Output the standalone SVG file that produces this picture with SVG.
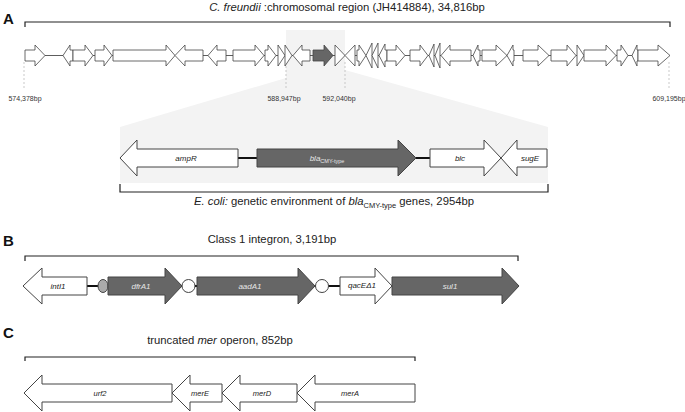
<svg xmlns="http://www.w3.org/2000/svg" width="685" height="412" viewBox="0 0 685 412">
<style>
text{font-family:"Liberation Sans",Arial,sans-serif}
.w{fill:#fff;stroke:#444;stroke-width:1}
.wt{fill:#fff;stroke:#444;stroke-width:0.8}
.d{fill:#666;stroke:#444;stroke-width:1}
.dt{fill:#666;stroke:#444;stroke-width:0.8}
.br{fill:none;stroke:#222;stroke-width:1.2}
.bb{stroke:#111;stroke-width:2.2}
.dash{stroke:#bbb;stroke-width:0.8;stroke-dasharray:2 2}
.pl{font-size:15px;font-weight:bold;fill:#111}
.ti{font-size:11.3px;fill:#222;text-anchor:middle}
.pos{font-size:7px;fill:#333;text-anchor:middle}
.gl{font-size:8px;font-style:italic;fill:#222;text-anchor:middle}
.gd{font-size:8px;font-style:italic;fill:#e6e6e6;text-anchor:middle}
.gc{font-size:7.5px;font-style:italic;fill:#222;text-anchor:middle}
</style>

<!-- Panel A -->
<text class="pl" x="3" y="24">A</text>
<text class="ti" x="347" y="11"><tspan font-style="italic">C. freundii</tspan> :chromosomal region (JH414884), 34,816bp</text>
<path class="br" d="M25,27 V22 H670 V27"/>

<polygon id="zoom-shade" points="286,30 345,30 345,70 548,127 548,183 120,183 120,127 286,78" fill="#f3f3f3"/>

<g id="positions">
<line class="dash" x1="24" y1="62" x2="24" y2="90"/>
<line class="dash" x1="286" y1="62" x2="286" y2="90"/>
<line class="dash" x1="345" y1="62" x2="345" y2="90"/>
<line class="dash" x1="669" y1="62" x2="669" y2="90"/>
<text class="pos" x="25" y="101">574,378bp</text>
<text class="pos" x="284" y="101">588,947bp</text>
<text class="pos" x="339" y="101">592,040bp</text>
<text class="pos" x="669" y="101">609,195bp</text>
</g>

<g id="connectors">
<line x1="25" y1="55.5" x2="670" y2="55.5" stroke="#333" stroke-width="0.8"/>
<line class="bb" x1="238" y1="158" x2="430" y2="158"/>
<line class="bb" x1="87" y1="286" x2="340" y2="286"/>
</g>

<g id="chromosome-genes">
<polygon class="wt" points="25,50 35,50 35,45 45,55.5 35,66 35,61 25,61"/>
<polygon class="wt" points="63,55.5 70,45 70,50 73,50 73,61 70,61 70,66"/>
<polygon class="wt" points="73,50 85,50 85,45 93,55.5 85,66 85,61 73,61"/>
<polygon class="wt" points="95,50 104,50 104,45 112,55.5 104,66 104,61 95,61"/>
<polygon class="wt" points="113,50 166,50 166,45 175,55.5 166,66 166,61 113,61"/>
<polygon class="wt" points="175,55.5 185,45 185,50 203,50 203,61 185,61 185,66"/>
<polygon class="wt" points="208,55.5 217,45 217,50 226,50 226,61 217,61 217,66"/>
<polygon class="wt" points="233,50 255,50 255,45 264,55.5 255,66 255,61 233,61"/>
<polygon class="wt" points="265,50 268,50 268,45 276,55.5 268,66 268,61 265,61"/>
<polygon class="wt" points="278,45 285,55.5 278,66"/>
<polygon class="wt" points="285,45 292,55.5 285,66"/>
<polygon class="wt" points="293,55.5 302,45 302,50 310,50 310,61 302,61 302,66"/>
<polygon class="dt" points="313,50 324,50 324,45 333,55.5 324,66 324,61 313,61"/>
<polygon class="wt" points="335,45 345,55.5 335,66"/>
<polygon class="wt" points="345,55.5 355,45 355,66"/>
<polygon class="wt" points="357,50 359,50 359,45 366,55.5 359,66 359,61 357,61"/>
<polygon class="wt" points="366,55.5 372,43 372,68"/>
<polygon class="wt" points="372,55.5 378,43 378,68"/>
<polygon class="wt" points="379,55.5 385,44 385,50 387,50 387,61 385,61 385,67"/>
<polygon class="wt" points="387,50 396,50 396,45 405,55.5 396,66 396,61 387,61"/>
<polygon class="wt" points="410,50 420,50 420,45 428,55.5 420,66 420,61 410,61"/>
<polygon class="wt" points="429,55.5 434,44 434,67"/>
<polygon class="wt" points="435,55.5 440,43 440,68"/>
<polygon class="wt" points="441,55.5 450,45 450,50 471,50 471,61 450,61 450,66"/>
<polygon class="wt" points="473,55.5 478,45 478,50 480,50 480,61 478,61 478,66"/>
<polygon class="wt" points="482,50 496,50 496,45 507,55.5 496,66 496,61 482,61"/>
<polygon class="wt" points="507,55.5 513,45 513,50 514,50 514,61 513,61 513,66"/>
<polygon class="wt" points="523,50 538,50 538,45 549,55.5 538,66 538,61 523,61"/>
<polygon class="wt" points="551,50 567,50 567,45 576,55.5 567,66 567,61 551,61"/>
<polygon class="wt" points="577,45 584,55.5 577,66"/>
<polygon class="wt" points="584,50 606,50 606,45 616,55.5 606,66 606,61 584,61"/>
<polygon class="wt" points="617,50 621,50 621,45 628,55.5 621,66 621,61 617,61"/>
<polygon class="wt" points="632,55.5 637,45 637,50 638,50 638,61 637,61 637,66"/>
<polygon class="wt" points="638,50 658,50 658,45 670,55.5 658,66 658,61 638,61"/>
</g>

<g id="ampR"><polygon class="w" points="120,158 137,140 137,149 238,149 238,167 137,167 137,176"/><text class="gl" x="186" y="161">ampR</text></g>
<g id="blaCMY"><polygon class="d" points="257,149 398,149 398,140 416,158 398,176 398,167 257,167"/><text class="gd" x="327" y="161">bla<tspan font-size="5.5" font-style="normal" dy="1.5">CMY-type</tspan></text></g>
<g id="blc"><polygon class="w" points="430,149 484,149 484,140 501,158 484,176 484,167 430,167"/><text class="gl" x="460" y="161">blc</text></g>
<g id="sugE"><polygon class="w" points="501,158 517,140 517,149 547,149 547,167 517,167 517,176"/><text class="gl" x="530" y="161">sugE</text></g>

<path class="br" d="M120,184 V192 H548 V184"/>
<text class="ti" x="334" y="205"><tspan font-style="italic">E. coli:</tspan> genetic environment of <tspan font-style="italic">bla</tspan><tspan font-size="7.5" dy="2.5">CMY-type</tspan><tspan dy="-2.5"> genes, 2954bp</tspan></text>

<!-- Panel B -->
<text class="pl" x="3" y="246">B</text>
<text class="ti" x="272" y="243">Class 1 integron, 3,191bp</text>
<path class="br" d="M25,261 V256 H518 V261"/>

<g id="intI1"><polygon class="w" points="23,286 42,268 42,277 87,277 87,295 42,295 42,304"/><text class="gl" x="58" y="289">intI1</text></g>
<g id="attI1"><ellipse cx="103" cy="286" rx="5" ry="6.5" fill="#aaa" stroke="#444"/></g>
<g id="dfrA1"><polygon class="d" points="108,277 165,277 165,268 182,286 165,304 165,295 108,295"/><text class="gd" x="141" y="289">dfrA1</text></g>
<g id="attC1"><circle cx="188.5" cy="286" r="6.5" fill="#fff" stroke="#444"/></g>
<g id="aadA1"><polygon class="d" points="197,277 298,277 298,268 315,286 298,304 298,295 197,295"/><text class="gd" x="250" y="289">aadA1</text></g>
<g id="attC2"><circle cx="322" cy="286" r="6.5" fill="#fff" stroke="#444"/></g>
<g id="qacE"><polygon class="w" points="340,277 375,277 375,268 392,286 375,304 375,295 340,295"/><text class="gl" x="362" y="288" font-size="5.5">qacEΔ1</text></g>
<g id="sul1"><polygon class="d" points="392,277 502,277 502,268 519,286 502,304 502,295 392,295"/><text class="gd" x="450" y="289">sul1</text></g>

<!-- Panel C -->
<text class="pl" x="3" y="338">C</text>
<text class="ti" x="220" y="344">truncated <tspan font-style="italic">mer</tspan> operon, 852bp</text>
<path class="br" d="M25,361 V357 H415 V361"/>

<g id="urf2"><polygon class="w" points="24,393 42,375 42,384 172,384 172,402 42,402 42,411"/><text class="gc" x="100" y="396">urf2</text></g>
<g id="merE"><polygon class="w" points="172,393 190,375 190,384 222,384 222,402 190,402 190,411"/><text class="gc" x="200" y="396">merE</text></g>
<g id="merD"><polygon class="w" points="222,393 240,375 240,384 297,384 297,402 240,402 240,411"/><text class="gc" x="262" y="396">merD</text></g>
<g id="merA"><polygon class="w" points="297,393 315,375 315,384 415,384 415,402 315,402 315,411"/><text class="gc" x="350" y="396">merA</text></g>
</svg>
